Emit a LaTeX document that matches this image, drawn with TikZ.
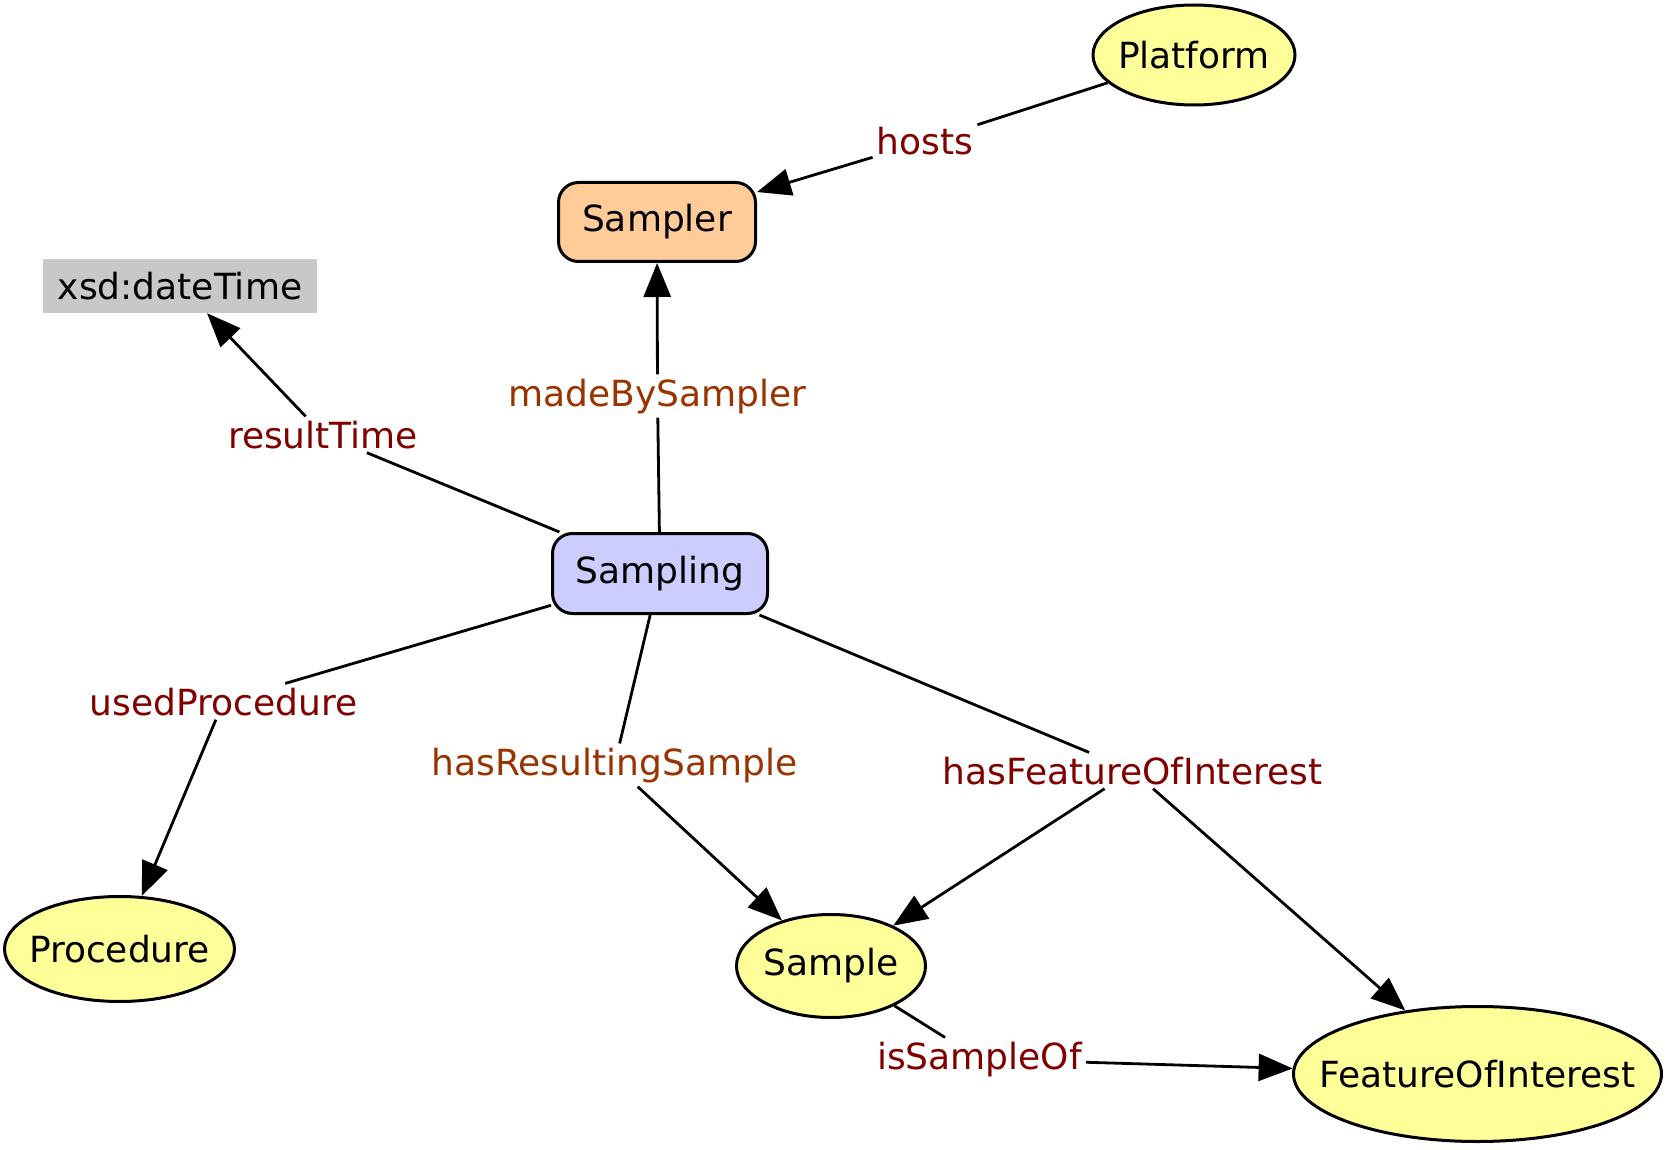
\documentclass[tikz,border=0pt]{standalone}
\usepackage{fontspec}
\setmainfont{DejaVu Sans}
\usetikzlibrary{shapes.geometric,arrows.meta}
\definecolor{lblred}{HTML}{800000}
\definecolor{lblbrown}{HTML}{993300}
\definecolor{ellfill}{HTML}{FFFF99}
\definecolor{samplerfill}{HTML}{FFCC99}
\definecolor{samplingfill}{HTML}{CCCCFF}
\definecolor{xsdfill}{HTML}{C8C8C8}
\newcommand{\zw}[1]{\makebox[0pt]{#1}}
\begin{document}
\begin{tikzpicture}[x=1pt,y=-1pt,
  txt/.style={font=\fontsize{36}{40}\selectfont},
  cls/.style={txt, ellipse, draw, line width=3pt, fill=ellfill, inner sep=0pt},
  rbox/.style={txt, draw, line width=3pt, rounded corners=20pt, inner sep=0pt},
  lbl/.style={txt, inner sep=4pt, anchor=base},
  redlbl/.style={lbl, text=lblred},
  brownlbl/.style={lbl, text=lblbrown},
  edge/.style={line width=2.8pt},
  arr/.style={edge, -{Triangle[length=34pt,width=27pt]}}]
\useasboundingbox (0,0) rectangle (1671,1150);
% class nodes
\node[cls, minimum width=202pt, minimum height=100pt] (platform) at (1194,55) {\zw{Platform}};
\node[rbox, fill=samplerfill, minimum width=197pt, minimum height=79pt] (sampler) at (657,222) {Sampler};
\node[txt, fill=xsdfill, inner sep=0pt, minimum width=274pt, minimum height=54pt] (xsd) at (180,286) {xsd:dateTime};
\node[rbox, fill=samplingfill, minimum width=215pt, minimum height=80pt] (sampling) at (660,573.5) {Sampling};
\node[cls, minimum width=230pt, minimum height=105pt] (procedure) at (119.5,949) {\zw{Procedure}};
\node[cls, minimum width=189pt, minimum height=103pt] (sample) at (831,966) {\zw{Sample}};
\node[cls, minimum width=368pt, minimum height=135pt] (foi) at (1477.5,1074) {\zw{FeatureOfInterest}};
% edge labels
\node[redlbl] (lhosts) at (925,155) {hosts};
\node[brownlbl] (lmade) at (657.5,406) {madeBySampler};
\node[redlbl] (lresult) at (323,448) {resultTime};
\node[redlbl] (lused) at (223.5,715) {usedProcedure};
\node[brownlbl] (lres) at (614.5,775) {hasResultingSample};
\node[redlbl] (lfoi) at (1132.5,784) {hasFeatureOfInterest};
\node[redlbl] (liso) at (979.5,1069) {isSampleOf};
% edges
\draw[edge] (platform) -- (lhosts);
\draw[arr] (lhosts) -- (sampler);
\draw[edge] (sampling) -- (lmade);
\draw[arr] (lmade) -- (sampler);
\draw[edge] (sampling) -- (lresult);
\draw[arr] (lresult) -- ([xshift=27pt]xsd.south);
\draw[edge] (sampling) -- (lused);
\draw[arr] (lused) -- (procedure);
\draw[edge] (sampling) -- (lres);
\draw[arr] (lres) -- (sample);
\draw[edge] (sampling) -- (lfoi);
\draw[arr] (lfoi) -- (sample);
\draw[arr] (lfoi) -- (foi);
\draw[edge] (sample) -- (liso);
\draw[arr] (liso) -- (foi);
\end{tikzpicture}
\end{document}
